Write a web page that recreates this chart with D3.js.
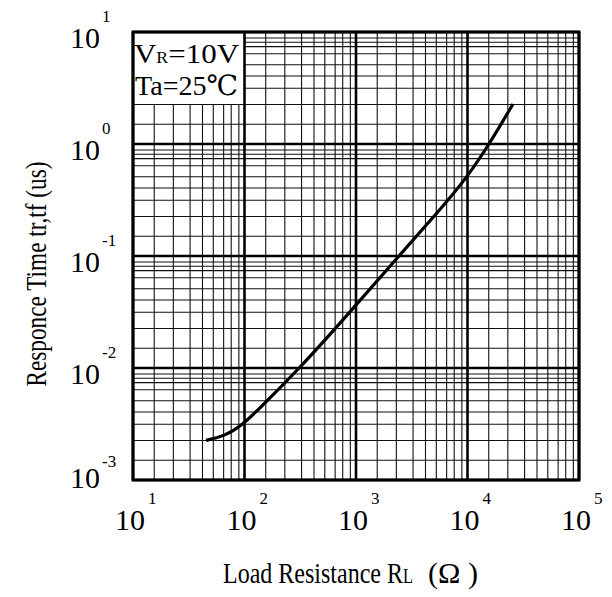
<!DOCTYPE html>
<html>
<head>
<meta charset="utf-8">
<script src="https://cdn.jsdelivr.net/npm/d3@7"></script>
<style>
  html, body { margin: 0; padding: 0; background: #fff; }
  svg { display: block; }
  text { font-family: "Liberation Serif", "DejaVu Serif", "Times New Roman", serif; fill: #000; }
</style>
</head>
<body>
<svg id="chart" width="612" height="597"></svg>
<script>
// ---- data ----
const resistance = [45.2, 66.9, 95.0, 126.8, 314.7, 883.6, 2332, 5667, 9897, 15915, 25590];      // Ohm
const responseTime = [0.00226, 0.00247, 0.0031, 0.00405, 0.01, 0.0316, 0.096, 0.2585, 0.503, 1.02, 2.275]; // us

const xDecades = [10, 100, 1000, 10000, 100000];
const yDecades = [0.001, 0.01, 0.1, 1, 10];
const xExponents = ["1", "2", "3", "4", "5"];
const yExponents = ["-3", "-2", "-1", "0", "1"];
const xMinor = [1.55, 2.3, 3.25, 4.2, 5.25, 6.5, 7.6, 8.9];
const yMinor = [1.5, 2.25, 3.15, 4.05, 5.1, 6.4, 7.4, 8.1, 8.85];

const xTitle = ["Load Resistance R", "L", "(\u03A9 )"];
const yTitle = "Responce Time tr,tf (us)";
const noteLine1 = ["V", "R", "=10V"];
const noteLine2 = "Ta=25\u2103";

// ---- layout ----
const svg = d3.select("#chart");
const x = d3.scaleLog().domain([10, 100000]).range([133, 579]);
const y = d3.scaleLog().domain([0.001, 10]).range([480, 32]);
const [x0, x1] = x.range();
const [y1, y0] = y.range();

// minor grid
const xMinorVals = [];
xDecades.slice(0, -1).forEach(d => xMinor.forEach(m => xMinorVals.push(d * m)));
const yMinorVals = [];
yDecades.slice(0, -1).forEach(d => yMinor.forEach(m => yMinorVals.push(d * m)));

const grid = svg.append("g");
grid.selectAll("line.vx").data(xMinorVals).join("line")
  .attr("x1", d => x(d)).attr("x2", d => x(d)).attr("y1", y0).attr("y2", y1)
  .attr("stroke", "#111").attr("stroke-width", 1.1);
grid.selectAll("line.hy").data(yMinorVals).join("line")
  .attr("x1", x0).attr("x2", x1).attr("y1", d => y(d)).attr("y2", d => y(d))
  .attr("stroke", "#111").attr("stroke-width", 1.1);

// note box (white) in the top-left cell
const boxRight = x(100);
const boxBottomVal = 1 * yMinor[1];
svg.append("rect")
  .attr("x", x0).attr("y", y0)
  .attr("width", boxRight - x0).attr("height", y(boxBottomVal) - y0)
  .attr("fill", "#fff");
svg.append("line")
  .attr("x1", x0).attr("x2", boxRight).attr("y1", y(boxBottomVal)).attr("y2", y(boxBottomVal))
  .attr("stroke", "#111").attr("stroke-width", 1.1);

// decade lines
svg.selectAll("line.dx").data(xDecades).join("line")
  .attr("x1", d => x(d)).attr("x2", d => x(d)).attr("y1", y0).attr("y2", y1)
  .attr("stroke", "#000").attr("stroke-width", 2.6);
svg.selectAll("line.dy").data(yDecades).join("line")
  .attr("x1", x0).attr("x2", x1).attr("y1", d => y(d)).attr("y2", d => y(d))
  .attr("stroke", "#000").attr("stroke-width", 2.6);

// frame
svg.append("rect")
  .attr("x", x0).attr("y", y0).attr("width", x1 - x0).attr("height", y1 - y0)
  .attr("fill", "none").attr("stroke", "#000").attr("stroke-width", 3);

// curve
const pts = resistance.map((r, i) => [x(r), y(responseTime[i])]);
svg.append("path")
  .attr("d", d3.line().curve(d3.curveBasis)(pts))
  .attr("fill", "none").attr("stroke", "#000").attr("stroke-width", 3.2)
  .attr("stroke-linecap", "butt");

// y tick labels
yDecades.forEach((v, i) => {
  const yy = y(v);
  svg.append("text").attr("x", x0 - 33).attr("y", yy + (i === 0 ? 8 : 16))
    .attr("text-anchor", "end").attr("font-size", 30).text("10");
  svg.append("text").attr("x", x0 - 31).attr("y", yy + (i === 0 ? -13 : -10))
    .attr("text-anchor", "start").attr("font-size", 17).text(yExponents[i]);
});

// x tick labels
xDecades.forEach((v, i) => {
  const xx = x(v);
  svg.append("text").attr("x", xx - 3).attr("y", y1 + 50)
    .attr("text-anchor", "middle").attr("font-size", 30).text("10");
  svg.append("text").attr("x", xx + 15).attr("y", y1 + 24)
    .attr("text-anchor", "start").attr("font-size", 17).text(xExponents[i]);
});

// x title (three pieces, tall narrow serif)
svg.append("text").attr("transform", "translate(223,583) scale(1,1.25)")
  .attr("font-size", 24).attr("textLength", 180).attr("lengthAdjust", "spacingAndGlyphs")
  .text(xTitle[0]);
svg.append("text").attr("transform", "translate(403,583) scale(1,1.25)")
  .attr("font-size", 16).attr("textLength", 10).attr("lengthAdjust", "spacingAndGlyphs")
  .text(xTitle[1]);
svg.append("text").attr("transform", "translate(428,583) scale(1,1.25)")
  .attr("font-size", 24).attr("textLength", 50).attr("lengthAdjust", "spacingAndGlyphs")
  .text(xTitle[2]);

// y title
svg.append("text")
  .attr("transform", "translate(46,274) rotate(-90) scale(1,1.4)")
  .attr("text-anchor", "middle").attr("font-size", 21.5)
  .attr("textLength", 225).attr("lengthAdjust", "spacingAndGlyphs")
  .text(yTitle);

// note
const n1 = svg.append("text").attr("x", x0 + 1).attr("y", 63)
  .attr("font-size", 28).attr("textLength", 105).attr("lengthAdjust", "spacingAndGlyphs");
n1.append("tspan").text(noteLine1[0]);
n1.append("tspan").attr("font-size", 16).text(noteLine1[1]);
n1.append("tspan").attr("font-size", 28).text(noteLine1[2]);
svg.append("text").attr("x", x0 + 2).attr("y", 95)
  .attr("font-size", 28).attr("textLength", 103).attr("lengthAdjust", "spacingAndGlyphs")
  .style("font-family", "'Liberation Serif', 'DejaVu Serif', serif")
  .text(noteLine2);
</script>
</body>
</html>
